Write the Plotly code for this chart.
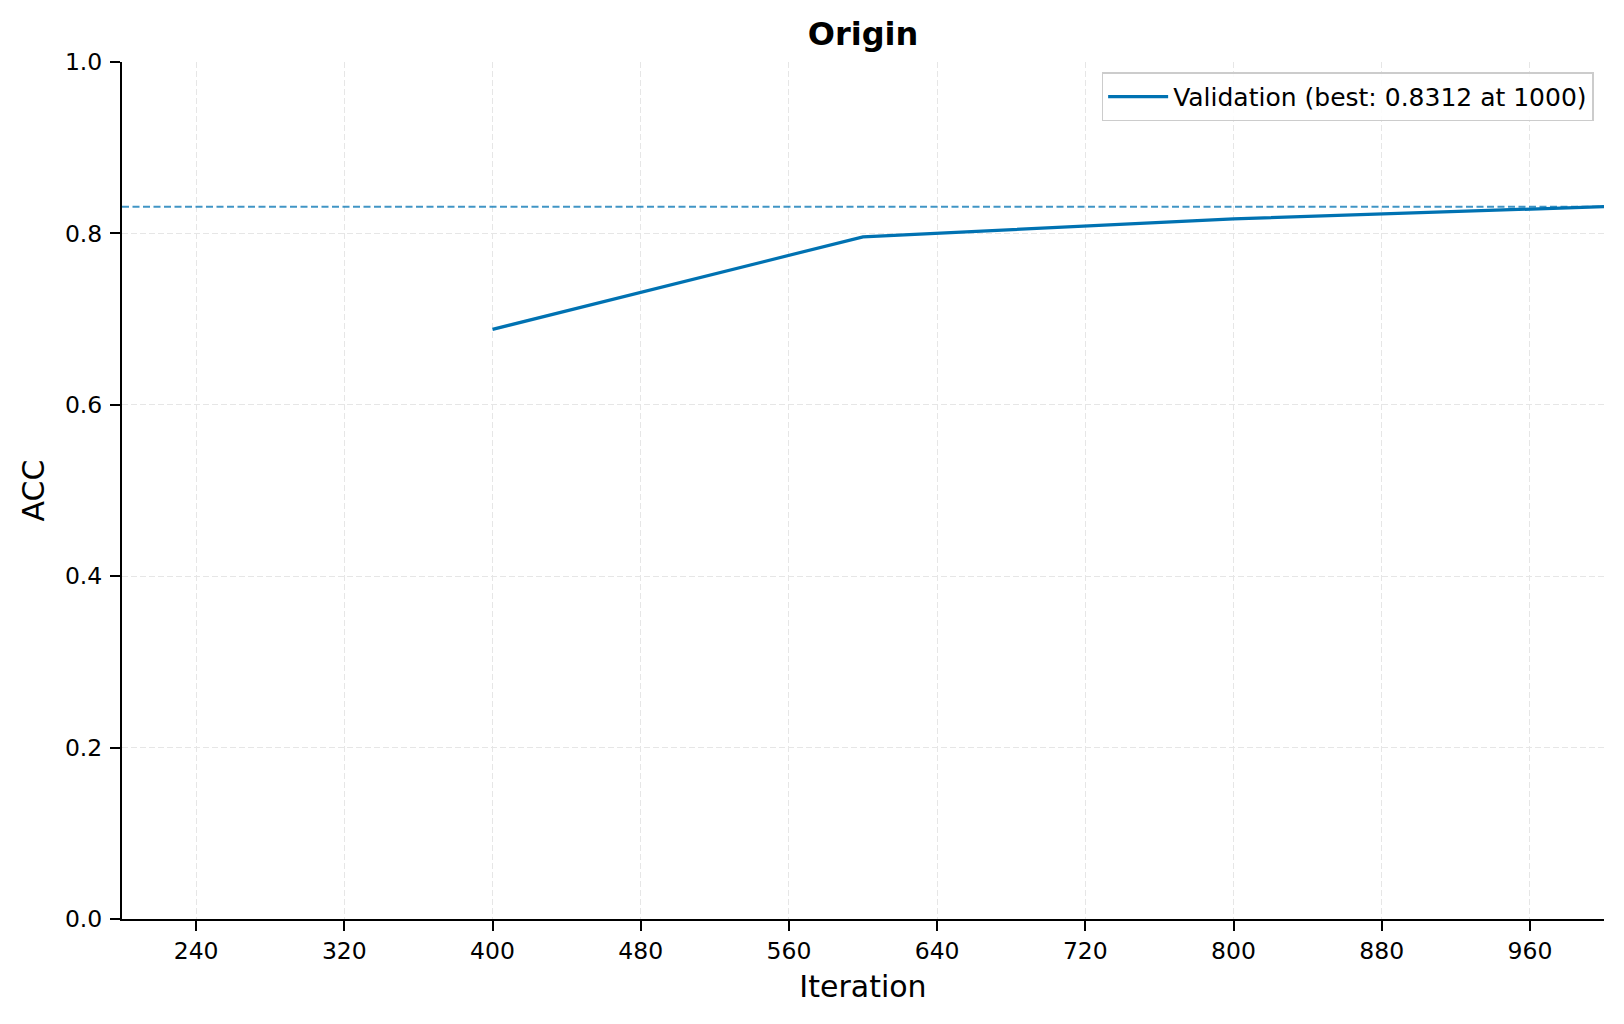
import plotly.graph_objects as go

# ---- data ----
iterations = [400, 600, 800, 1000]
val_acc = [0.688, 0.796, 0.817, 0.8312]
x_ticks = [240, 320, 400, 480, 560, 640, 720, 800, 880, 960]
y_ticks = [0.0, 0.2, 0.4, 0.6, 0.8, 1.0]
x_range = [200, 1000]
y_range = [0.0, 1.0]
title_text = "Origin"
x_title = "Iteration"
y_title = "ACC"

best_idx = max(range(len(val_acc)), key=lambda i: val_acc[i])
best_val = val_acc[best_idx]
best_iter = iterations[best_idx]

FONT = "DejaVu Sans"
LINE_COLOR = "#0072B2"

ML, MR, MT, MB = 122, 20, 62, 105
W, H = 1624, 1024

fig = go.Figure()
fig.add_trace(go.Scatter(
    x=iterations, y=val_acc, mode="lines",
    line=dict(color=LINE_COLOR, width=3.2),
    name=f"Validation (best: {best_val:.4f} at {best_iter})",
    showlegend=True,
))
fig.add_hline(y=best_val, line=dict(color="rgba(0,114,178,0.75)", width=2, dash="7px,3.5px"))

axis_common = dict(
    showline=True, linecolor="black", linewidth=2,
    ticks="outside", ticklen=10, tickwidth=2, tickcolor="black",
    showgrid=True, gridcolor="#e6e6e6", gridwidth=1, griddash="6px,3px",
    zeroline=False, mirror=False,
    tickfont=dict(family=FONT, size=23.5, color="black"),
)

fig.update_layout(
    width=W, height=H,
    margin=dict(l=ML, r=MR, t=MT, b=MB),
    paper_bgcolor="white", plot_bgcolor="white",
    font=dict(family=FONT, color="black"),
    title=dict(text=f"<b>{title_text}</b>", x=(ML + (W - MR)) / 2 / W, xanchor="center",
               y=1 - 34 / H, yanchor="middle",
               font=dict(family=FONT, size=32, color="black")),
    xaxis=dict(range=x_range, tickvals=x_ticks, ticklabelstandoff=0,
               title=dict(text=x_title, font=dict(family=FONT, size=30), standoff=12),
               **axis_common),
    yaxis=dict(range=y_range, tickvals=y_ticks, tickformat=".1f", ticklabelstandoff=3,
               title=dict(text=y_title, font=dict(family=FONT, size=30), standoff=11),
               **axis_common),
    legend=dict(x=0.993, y=0.988, xanchor="right", yanchor="top", itemwidth=60,
                bgcolor="rgba(255,255,255,0.85)", bordercolor="#cccccc", borderwidth=1.5,
                font=dict(family=FONT, size=25, color="black")),
)

fig.write_html("out.html")
